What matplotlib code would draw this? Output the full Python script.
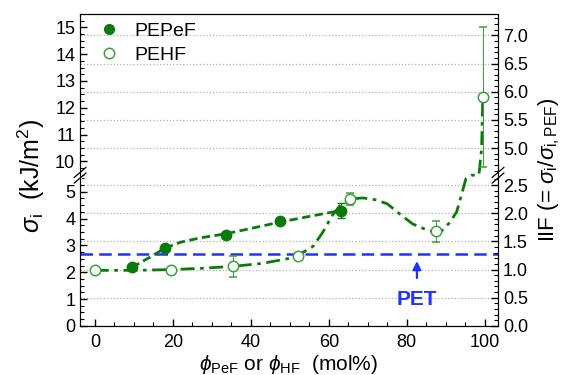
import numpy as np
import matplotlib
matplotlib.use('Agg')
from matplotlib import pyplot as plt
from matplotlib.lines import Line2D
from matplotlib.ticker import FixedLocator, MultipleLocator, FormatStrFormatter

plt.rcParams['font.family'] = ['Liberation Sans', 'DejaVu Sans']
plt.rcParams['mathtext.fontset'] = 'custom'
plt.rcParams['mathtext.rm'] = 'Liberation Sans'
plt.rcParams['mathtext.it'] = 'Liberation Sans:italic'
plt.rcParams['mathtext.bf'] = 'Liberation Sans:bold'

# measured impact strength (kJ/m2)
pepef_x = [9.5, 18, 33.5, 47.5, 63]
pepef_y = [2.2, 2.9, 3.4, 3.9, 4.3]
pepef_err = [0.06, 0.08, 0.06, 0.08, 0.28]

pehf_x = [0, 19.5, 35.5, 52, 65.5, 87.5, 99.5]
pehf_y = [2.07, 2.07, 2.22, 2.6, 4.73, 3.52, 12.4]
pehf_err = [0.05, 0.05, 0.4, 0.1, 0.22, 0.38, 2.6]

# guide-to-the-eye curves
pepef_fit_x = [9.5, 14, 18, 22, 27, 33.5, 40, 47.5, 55, 63]
pepef_fit_y = [2.18, 2.55, 2.9, 3.12, 3.28, 3.43, 3.63, 3.87, 4.08, 4.3]

pehf_fit_x = [0, 10, 20, 28, 35.5, 43, 50, 52, 56, 58.5, 60.8, 62.8, 65.6, 68.7,
              72, 75, 78.2, 81.5, 85.9, 89, 91, 92.8, 95.2, 96.5, 98.5, 99.2, 99.5]
pehf_fit_y = [2.07, 2.07, 2.1, 2.15, 2.22, 2.33, 2.52, 2.62, 2.97, 3.5, 4.1, 4.47, 4.73, 4.77,
              4.7, 4.55, 4.17, 3.8, 3.53, 3.55, 3.85, 4.25, 5.5, 7.0, 9.3, 10.5, 12.4]

pet_level = 2.67
pet_x = 82.6
ref_sigma = 2.1   # sigma_i of PEF, IIF = sigma_i / ref_sigma

left_ticks = [0, 1, 2, 3, 4, 5, 10, 11, 12, 13, 14, 15]
right_ticks = [0.0, 0.5, 1.0, 1.5, 2.0, 2.5, 5.0, 5.5, 6.0, 6.5, 7.0]

# broken axis: lower part 0..low_top, upper part up_bottom..15.5
low_top, up_bottom, y_top = 5.6, 9.5, 15.5
gap = 0.03
xp = [-100, low_top, up_bottom, 100]
fp = [-100, low_top, low_top + gap, low_top + gap + 100 - up_bottom]


def fwd(y):
    return np.interp(y, xp, fp)


def inv(t):
    return np.interp(t, fp, xp)


dark = '#0b7a0b'
light = '#3b9f3b'
blue = '#1f32ff'

fig = plt.figure(figsize=(5.64, 3.75), dpi=100)
ax = fig.add_axes([0.142, 0.131, 0.741, 0.832])
ax.set_yscale('function', functions=(fwd, inv))
ax.set_ylim(0, y_top)
ax.set_xlim(-3.8, 103.4)

ax2 = ax.twinx()
ax2.set_yscale('function', functions=(lambda r: fwd(np.asarray(r) * ref_sigma),
                                      lambda t: inv(t) / ref_sigma))
ax2.set_ylim(0, y_top / ref_sigma)

# grid follows the IIF ticks
for r in right_ticks:
    ax.axhline(r * ref_sigma, color='#b0b0b0', ls=':', lw=0.9, zorder=0)

ax.axhline(pet_level, color=blue, ls=(0, (5, 2.5)), lw=1.8, zorder=1)

ax.plot(pepef_fit_x, pepef_fit_y, color=dark, ls=(0, (3, 1.6)), lw=2, zorder=2)
ax.plot(pehf_fit_x, pehf_fit_y, color=dark, ls=(0, (5, 2, 1.3, 2)), lw=2, zorder=2)

ax.errorbar(pepef_x, pepef_y, yerr=pepef_err, fmt='o', color=dark, ms=7.5,
            ecolor=dark, elinewidth=0.8, capsize=3, zorder=3)
ax.errorbar(pehf_x, pehf_y, yerr=pehf_err, fmt='o', mfc='white', mec=light, mew=1.1,
            ms=7.5, ecolor=light, elinewidth=0.7, capsize=3, zorder=3)

ax.annotate('', xy=(pet_x, 2.52), xytext=(pet_x, 1.68),
            arrowprops=dict(arrowstyle='-|>', color=blue, lw=1.6, mutation_scale=12))
ax.text(pet_x, 1.0, 'PET', color=blue, fontsize=15, fontweight='bold',
        ha='center', va='center')

handles = [Line2D([], [], ls='none', marker='o', color=dark, ms=7),
           Line2D([], [], ls='none', marker='o', mfc='white', mec=light, mew=1.1, ms=7.5)]
ax.legend(handles, ['PEPeF', 'PEHF'], loc='upper left', bbox_to_anchor=(0.0, 1.03),
          frameon=False, fontsize=14, handlelength=1.2, handletextpad=0.7,
          labelspacing=0.35)

ax.yaxis.set_major_locator(FixedLocator(left_ticks))
left_minor = list(np.arange(0, low_top, 0.25)) + list(np.arange(up_bottom, y_top, 0.25))
ax.yaxis.set_minor_locator(FixedLocator(left_minor))
ax.xaxis.set_major_locator(FixedLocator([0, 20, 40, 60, 80, 100]))
ax.xaxis.set_minor_locator(MultipleLocator(5))

ax2.yaxis.set_major_locator(FixedLocator(right_ticks))
right_minor = list(np.arange(0, low_top / ref_sigma, 0.1)) + \
    list(np.arange(5.0, y_top / ref_sigma, 0.1)) + [4.6, 4.7, 4.8, 4.9]
ax2.yaxis.set_minor_locator(FixedLocator(right_minor))
ax2.yaxis.set_major_formatter(FormatStrFormatter('%.1f'))

ax.tick_params(which='both', direction='in', labelsize=13, top=False, right=False)
ax.tick_params(which='major', length=5, width=1)
ax.tick_params(which='minor', length=3, width=0.8)
ax.tick_params(axis='x', pad=6)
ax2.tick_params(which='both', direction='in', labelsize=13)
ax2.tick_params(which='major', length=5, width=1)
ax2.tick_params(which='minor', length=3, width=0.8)

ax.set_xlabel(r'$\phi_\mathrm{PeF}$ or $\phi_\mathrm{HF}$  (mol%)', fontsize=15, labelpad=1)
ax.set_ylabel(r'$\sigma_\mathrm{i}$  (kJ/m$^2$)', fontsize=18)
ax.yaxis.set_label_coords(-0.08, 0.48)
ax2.set_ylabel(r'IIF (= $\sigma_\mathrm{i}$/$\sigma_\mathrm{i,PEF}$)', fontsize=16)
ax2.yaxis.set_label_coords(1.093, 0.5)

# break marks on both spines
yb = (fwd(low_top) + gap / 2) / fwd(y_top)
for xs in (0, 1):
    ax.plot([xs, xs], [yb - 0.012, yb + 0.012], color='white', lw=2.5,
            transform=ax.transAxes, clip_on=False, zorder=5)
    for off in (-0.009, 0.009):
        ax.plot([xs - 0.014, xs + 0.014], [yb + off - 0.016, yb + off + 0.016],
                color='black', lw=0.9, transform=ax.transAxes, clip_on=False, zorder=6)

fig.savefig('out.png', dpi=100)
